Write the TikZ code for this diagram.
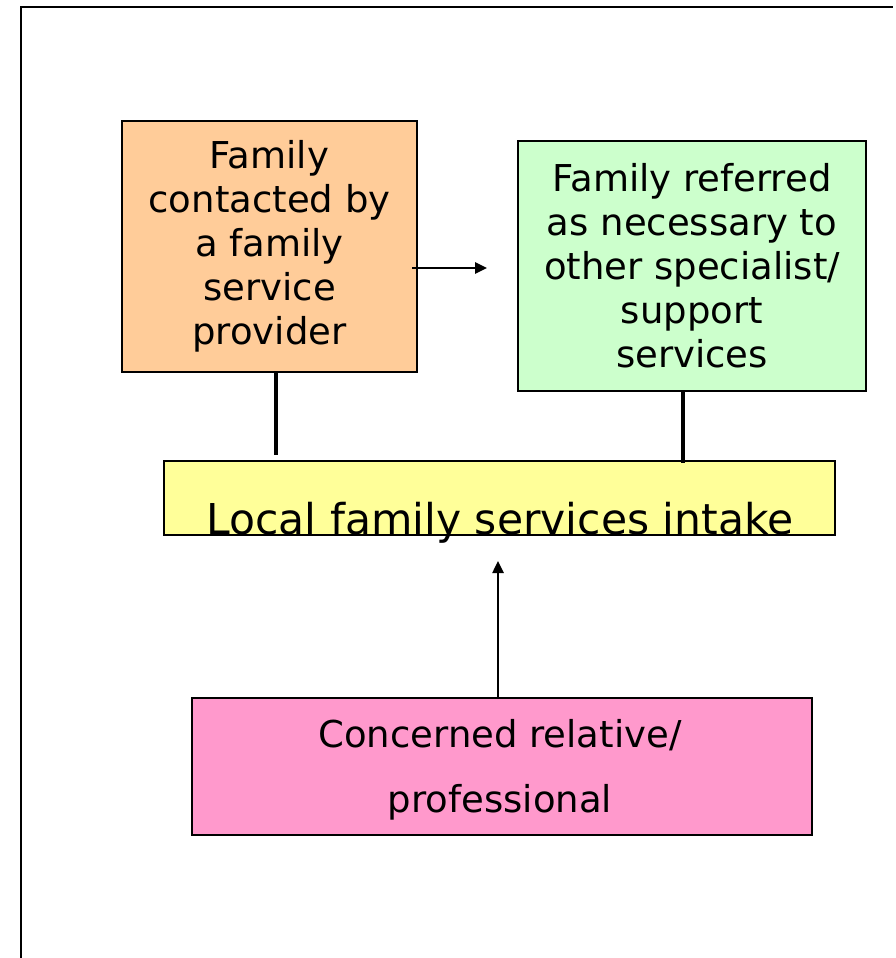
\documentclass[tikz,border=0pt]{standalone}
\usepackage{fontspec}
\setmainfont{DejaVu Sans}
\usetikzlibrary{arrows.meta}
\definecolor{orangebox}{HTML}{FFCC99}
\definecolor{greenbox}{HTML}{CCFFCC}
\definecolor{yellowbox}{HTML}{FFFF99}
\definecolor{pinkbox}{HTML}{FF99CC}
\tikzset{
  boxstyle/.style={draw=black, line width=2.5pt, inner sep=0pt, align=center, text=black},
  conn/.style={draw=black, line width=3.5pt},
  arr/.style={draw=black, line width=2.5pt, -{Triangle[length=12pt,width=11pt]}},
  frameline/.style={draw=black, line width=2.6pt}
}
\begin{document}
\begin{tikzpicture}[x=1pt,y=-1pt]
\useasboundingbox (0,0) rectangle (896,958);
\fill[white] (0,0) rectangle (896,958);
% outer frame (right and bottom sides lie outside the page)
\coordinate (ftl) at (21,7);
\coordinate (ftr) at (893,7);
\coordinate (fbl) at (21,960);
\draw[frameline] (fbl) -- (ftl) -- (ftr);
% boxes
\node[boxstyle, fill=orangebox, minimum width=295pt, minimum height=251pt,
      font=\fontsize{37}{44}\selectfont] (orange) at (269.5,246.5)
  {Family\\contacted by\\a family\\service\\provider};
\node[boxstyle, fill=greenbox, minimum width=348pt, minimum height=250pt,
      font=\fontsize{37}{44}\selectfont] (green) at (692,266)
  {Family referred\\as necessary to\\other specialist/\\support\\services};
\node[boxstyle, fill=yellowbox, minimum width=671pt, minimum height=74pt] (yellow) at (499.5,498) {};
\node[anchor=base, inner sep=0pt, font=\fontsize{42.5}{50}\selectfont] (yellowtext) at (500,534)
  {Local family services intake};
\node[boxstyle, fill=pinkbox, minimum width=620pt, minimum height=137pt,
      font=\fontsize{37}{65}\selectfont] (pink) at (502,766.5) {};
\node[align=center, inner sep=0pt, font=\fontsize{37}{65}\selectfont] (pinktext) at (500,769.5)
  {Concerned relative/\\professional};
% connectors
\coordinate (lc) at (276,455);
\coordinate (rc) at (683,463);
\draw[conn] (orange.south -| lc) -- (lc);
\draw[conn] (green.south -| rc) -- (rc);
\coordinate (ha) at (412,268);
\coordinate (hb) at (487,268);
\draw[arr] (ha) -- (hb);
\coordinate (va) at (498,561);
\draw[arr] (pink.north -| va) -- (va);
\end{tikzpicture}
\end{document}
